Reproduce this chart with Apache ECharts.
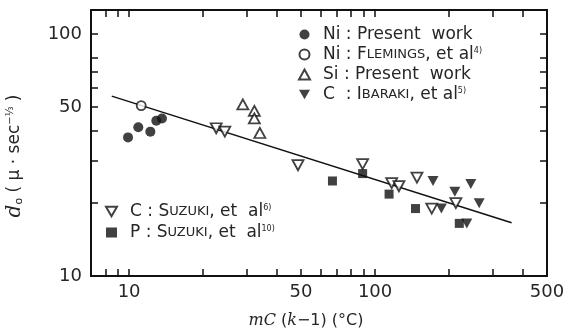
<!DOCTYPE html>
<html>
<head>
<meta charset="utf-8">
<script src="https://cdn.jsdelivr.net/npm/echarts@6/dist/echarts.min.js"></script>
<style>
  html, body { margin: 0; padding: 0; background: #fff; }
  #chart { width: 565px; height: 328px; }
</style>
</head>
<body>
<div id="chart"></div>
<script>
// mC(k-1) in degC against d0 in mu*sec^-1/3
const niPresentX = [9.9, 10.9, 12.2, 12.9, 13.6];
const niPresentY = [37.4, 41.2, 39.5, 43.8, 44.8];
const niFlemingsX = [11.2];
const niFlemingsY = [50.6];
const siPresentX = [29.0, 32.3, 32.3, 34.0];
const siPresentY = [51.2, 48.1, 44.8, 39.0];
const cIbarakiX = [172, 186, 211, 245, 265, 236];
const cIbarakiY = [24.7, 19.0, 22.3, 24.0, 20.0, 16.5];
const cSuzukiX = [22.6, 24.5, 48.6, 89.0, 116.8, 125, 148, 170, 213];
const cSuzukiY = [40.8, 39.5, 28.7, 29.0, 24.2, 23.5, 25.5, 19.0, 20.0];
const pSuzukiX = [67.1, 89.0, 114, 146, 220];
const pSuzukiY = [24.7, 26.5, 21.8, 19.0, 16.5];
// fitted line (slope about -1/3)
const fitX = [8.5, 359];
const fitY = [55.4, 16.6];

const xRange = [7, 500];
const yRange = [10, 125.7];
const xTicks = [8, 9, 10, 20, 30, 40, 50, 60, 70, 80, 90, 100, 200, 300, 400];
const xLabels = [10, 50, 100, 500];
const yTicks = [20, 30, 40, 50, 60, 70, 80, 100];
const yLabels = [10, 50, 100];

// log axes are drawn as value axes over log10 values
const lg = (v) => Math.log10(v);
const pts = (xs, ys) => xs.map((x, i) => [lg(x), lg(ys[i])]);

const INK = '#111';
const TXT = '#262626';
const downTri = 'path://M0,0L10,0L5,8.7Z';
const hollow = { color: '#fff', borderColor: INK, borderWidth: 1.8 };

const names = {
  niP: 'Ni : Present  work',
  niF: 'Ni : FLEMINGS',
  siP: 'Si : Present  work',
  cI: 'C  : IBARAKI',
  cS: 'C : SUZUKI 6',
  pS: 'P : SUZUKI 10'
};
const legendText = {
  [names.niP]: 'Ni : Present  work',
  [names.niF]: 'Ni : F{sc|LEMINGS}, et al{sup|4)}',
  [names.siP]: 'Si : Present  work',
  [names.cI]: 'C  : I{sc|BARAKI}, et al{sup|5)}',
  [names.cS]: 'C : S{sc|UZUKI}, et  al{sup|6)}',
  [names.pS]: 'P : S{sc|UZUKI}, et  al{sup|10)}'
};

const legendRich = {
  sc: { fontFamily: 'DejaVu Sans', fontSize: 13, color: TXT },
  sup: { fontFamily: 'DejaVu Sans', fontSize: 8, color: TXT, verticalAlign: 'top' }
};

function legendBox(data, left, top, gap) {
  return {
    data: data,
    orient: 'vertical',
    left: left,
    top: top,
    padding: 0,
    itemGap: gap,
    itemWidth: 11,
    itemHeight: 10,
    selectedMode: false,
    formatter: (n) => legendText[n],
    textStyle: {
      fontFamily: 'DejaVu Sans',
      fontSize: 17,
      lineHeight: 16,
      color: TXT,
      padding: [0, 0, 0, 8],
      rich: legendRich
    }
  };
}

// kind: 'frame' draws the line (+ labels on the main side), 'ticks' only the inner ticks
function xAxisDef(pos, kind) {
  return {
    type: 'value',
    position: pos,
    min: lg(xRange[0]),
    max: lg(xRange[1]),
    axisLine: { show: kind === 'frame', onZero: false, lineStyle: { color: INK, width: 2 } },
    axisTick: { show: kind === 'ticks', inside: true, length: 7, customValues: xTicks.map(lg),
      lineStyle: { color: INK, width: 1.5 } },
    axisLabel: { show: kind === 'frame' && pos === 'bottom', customValues: xLabels.map(lg), margin: 7,
      formatter: (v) => String(Math.round(Math.pow(10, v))),
      fontFamily: 'DejaVu Sans', fontSize: 18, color: TXT },
    splitLine: { show: false }
  };
}

function yAxisDef(pos, kind) {
  return {
    type: 'value',
    position: pos,
    min: lg(yRange[0]),
    max: lg(yRange[1]),
    axisLine: { show: kind === 'frame', onZero: false, lineStyle: { color: INK, width: 2 } },
    axisTick: { show: kind === 'ticks', inside: true, length: 7, customValues: yTicks.map(lg),
      lineStyle: { color: INK, width: 1.5 } },
    axisLabel: { show: kind === 'frame' && pos === 'left', customValues: yLabels.map(lg), margin: 9,
      formatter: (v) => String(Math.round(Math.pow(10, v))),
      fontFamily: 'DejaVu Sans', fontSize: 18, color: TXT },
    splitLine: { show: false }
  };
}

const xMain = xAxisDef('bottom', 'frame');
xMain.name = '{i|mC} ({i|k}\u22121) (\u00b0C)';
xMain.nameLocation = 'middle';
xMain.nameGap = 37;
xMain.nameTextStyle = {
  fontFamily: 'DejaVu Sans', fontSize: 16, color: TXT, padding: [0, 26, 0, 0],
  rich: { i: { fontFamily: 'DejaVu Serif', fontStyle: 'italic', fontSize: 16, color: TXT } }
};

const yMain = yAxisDef('left', 'frame');
yMain.name = '{d|d}{sub|o} ( \u03bc \u00b7 sec{sup|\u2212\u2153} )';
yMain.nameLocation = 'middle';
yMain.nameGap = 66;
yMain.nameTextStyle = {
  fontFamily: 'DejaVu Sans', fontSize: 17, color: TXT, padding: [0, 26, 0, 0],
  rich: {
    d: { fontFamily: 'DejaVu Serif', fontStyle: 'italic', fontSize: 20, color: TXT },
    sub: { fontFamily: 'DejaVu Sans', fontSize: 11, color: TXT, verticalAlign: 'bottom' },
    sup: { fontFamily: 'DejaVu Sans', fontSize: 10, color: TXT, verticalAlign: 'top' }
  }
};

const option = {
  animation: false,
  backgroundColor: '#fff',
  grid: { left: 91, right: 18, top: 10, bottom: 52, containLabel: false, outerBoundsMode: 'none' },
  xAxis: [xMain, xAxisDef('top', 'frame'), xAxisDef('bottom', 'ticks'), xAxisDef('top', 'ticks')],
  yAxis: [yMain, yAxisDef('right', 'frame'), yAxisDef('left', 'ticks'), yAxisDef('right', 'ticks')],
  legend: [
    legendBox([names.niP, names.niF, names.siP, names.cI], 298, 26, 3),
    legendBox([names.cS, names.pS], 105, 203, 4)
  ],
  series: [
    {
      type: 'line', data: pts(fitX, fitY), symbol: 'none', z: 1, silent: true,
      lineStyle: { color: INK, width: 1.5 }
    },
    { name: names.niP, type: 'scatter', z: 3, symbol: 'circle', symbolSize: 10,
      itemStyle: { color: INK }, data: pts(niPresentX, niPresentY) },
    { name: names.niF, type: 'scatter', z: 3, symbol: 'circle', symbolSize: 9,
      itemStyle: hollow, data: pts(niFlemingsX, niFlemingsY) },
    { name: names.siP, type: 'scatter', z: 3, symbol: 'triangle', symbolSize: [11, 10],
      itemStyle: hollow, data: pts(siPresentX, siPresentY) },
    { name: names.cI, type: 'scatter', z: 3, symbol: downTri, symbolSize: [11, 10],
      itemStyle: { color: INK }, data: pts(cIbarakiX, cIbarakiY) },
    { name: names.cS, type: 'scatter', z: 3, symbol: downTri, symbolSize: [11, 10],
      itemStyle: hollow, data: pts(cSuzukiX, cSuzukiY) },
    { name: names.pS, type: 'scatter', z: 3, symbol: 'rect', symbolSize: 9,
      itemStyle: { color: INK }, data: pts(pSuzukiX, pSuzukiY) }
  ]
};

const myChart = echarts.init(document.getElementById('chart'));
myChart.setOption(option);
</script>
</body>
</html>
